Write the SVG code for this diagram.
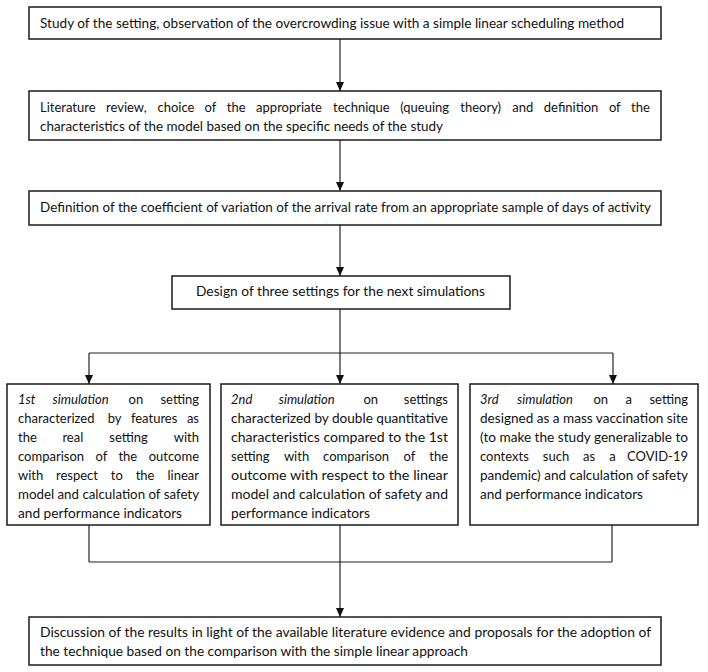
<svg xmlns="http://www.w3.org/2000/svg" width="708" height="672" viewBox="0 0 708 672">
<style>
.box{fill:#fff;stroke:#1a1a1a;stroke-width:1.5}
.t{font-family:Lato,"Liberation Sans",sans-serif;font-size:13px;fill:#111}
.i{font-style:italic}
.e{text-anchor:end}
.c{fill:none;stroke:#222;stroke-width:1.2}
.a{marker-end:url(#ah)}
</style>
<defs>
<marker id="ah" markerWidth="9" markerHeight="8" refX="9" refY="4" orient="auto" markerUnits="userSpaceOnUse" viewBox="0 0 9 8">
<path d="M0,0 L9,4 L0,8 Z" fill="#111"/>
</marker>
</defs>
<rect width="708" height="672" fill="#fff"/>
<g id="connectors">
<line class="c a" x1="340" y1="39" x2="340" y2="91"/>
<line class="c a" x1="340" y1="140" x2="340" y2="191"/>
<line class="c a" x1="340" y1="225" x2="340" y2="276"/>
<line class="c" x1="340" y1="309" x2="340" y2="353"/>
<line class="c" x1="89" y1="353" x2="613" y2="353"/>
<line class="c a" x1="89" y1="353" x2="89" y2="384"/>
<line class="c a" x1="340" y1="353" x2="340" y2="384"/>
<line class="c a" x1="613" y1="353" x2="613" y2="384"/>
<line class="c" x1="89" y1="525" x2="89" y2="562"/>
<line class="c" x1="612" y1="525" x2="612" y2="562"/>
<line class="c" x1="89" y1="562" x2="612" y2="562"/>
<line class="c a" x1="340" y1="525" x2="340" y2="617"/>
</g>
<g id="n1">
<rect class="box" x="29" y="7" width="632" height="32"/>
<text class="t" x="40" y="28" textLength="584" lengthAdjust="spacingAndGlyphs">Study of the setting, observation of the overcrowding issue with a simple linear scheduling method</text>
</g>
<g id="n2">
<rect class="box" x="29" y="91" width="632" height="49"/>
<text class="t" y="112"><tspan x="40">Literature</tspan><tspan x="106">review,</tspan><tspan x="157.5">choice</tspan><tspan x="204.6">of</tspan><tspan x="226.8">the</tspan><tspan x="256.1">appropriate</tspan><tspan x="333">technique</tspan><tspan x="400.2">(queuing</tspan><tspan x="460.3">theory)</tspan><tspan x="512.3">and</tspan><tspan x="543.8">definition</tspan><tspan x="608.9">of</tspan><tspan x="631.1">the</tspan></text>
<text class="t" x="40" y="131" textLength="403" lengthAdjust="spacingAndGlyphs">characteristics of the model based on the specific needs of the study</text>
</g>
<g id="n3">
<rect class="box" x="29" y="191" width="632" height="34"/>
<text class="t" x="40" y="212" textLength="611" lengthAdjust="spacingAndGlyphs">Definition of the coefficient of variation of the arrival rate from an appropriate sample of days of activity</text>
</g>
<g id="n4">
<rect class="box" x="172" y="276" width="338" height="33"/>
<text class="t" x="196" y="296" textLength="289" lengthAdjust="spacingAndGlyphs">Design of three settings for the next simulations</text>
</g>
<g id="n5">
<rect class="box" x="7" y="384" width="203" height="141"/>
<text class="t i" x="18" y="404">1st</text><text class="t i" x="52.6" y="404">simulation</text><text class="t" x="128.6" y="404">on</text><text class="t e" x="199" y="404">setting</text>
<text class="t" x="18" y="423">characterized</text><text class="t" x="107.7" y="423">by</text><text class="t" x="130.9" y="423">features</text><text class="t e" x="199" y="423">as</text>
<text class="t" x="18" y="442">the</text><text class="t" x="62.4" y="442">real</text><text class="t" x="109.3" y="442">setting</text><text class="t e" x="199" y="442">with</text>
<text class="t" x="18" y="461">comparison</text><text class="t" x="95.5" y="461">of</text><text class="t" x="118.4" y="461">the</text><text class="t e" x="199" y="461">outcome</text>
<text class="t" x="18" y="480">with</text><text class="t" x="56" y="480">respect</text><text class="t" x="110.8" y="480">to</text><text class="t" x="135.7" y="480">the</text><text class="t e" x="199" y="480">linear</text>
<text class="t" x="18" y="499" textLength="181" lengthAdjust="spacingAndGlyphs">model and calculation of safety</text>
<text class="t" x="18" y="518" textLength="164" lengthAdjust="spacingAndGlyphs">and performance indicators</text>
</g>
<g id="n6">
<rect class="box" x="221" y="384" width="237" height="141"/>
<text class="t i" x="231" y="404">2nd</text><text class="t i" x="278.7" y="404">simulation</text><text class="t" x="363.4" y="404">on</text><text class="t e" x="448" y="404">settings</text>
<text class="t" x="231" y="423" textLength="217" lengthAdjust="spacingAndGlyphs">characterized by double quantitative</text>
<text class="t" x="231" y="442" textLength="217" lengthAdjust="spacingAndGlyphs">characteristics compared to the 1st</text>
<text class="t" x="231" y="461">setting</text><text class="t" x="283.9" y="461">with</text><text class="t" x="323.1" y="461">comparison</text><text class="t" x="403.5" y="461">of</text><text class="t e" x="448" y="461">the</text>
<text class="t" x="231" y="480" textLength="217" lengthAdjust="spacingAndGlyphs">outcome with respect to the linear</text>
<text class="t" x="231" y="499" textLength="217" lengthAdjust="spacingAndGlyphs">model and calculation of safety and</text>
<text class="t" x="231" y="518" textLength="139" lengthAdjust="spacingAndGlyphs">performance indicators</text>
</g>
<g id="n7">
<rect class="box" x="470" y="384" width="228" height="141"/>
<text class="t i" x="480" y="404">3rd</text><text class="t i" x="517" y="404">simulation</text><text class="t" x="593.4" y="404">on</text><text class="t" x="625.4" y="404">a</text><text class="t e" x="688" y="404">setting</text>
<text class="t" x="480" y="423" textLength="208" lengthAdjust="spacingAndGlyphs">designed as a mass vaccination site</text>
<text class="t" x="480" y="442" textLength="208" lengthAdjust="spacingAndGlyphs">(to make the study generalizable to</text>
<text class="t" x="480" y="461">contexts</text><text class="t" x="542.8" y="461">such</text><text class="t" x="583.1" y="461">as</text><text class="t" x="609.3" y="461">a</text><text class="t e" x="688" y="461">COVID-19</text>
<text class="t" x="480" y="480" textLength="208" lengthAdjust="spacingAndGlyphs">pandemic) and calculation of safety</text>
<text class="t" x="480" y="499" textLength="163" lengthAdjust="spacingAndGlyphs">and performance indicators</text>
</g>
<g id="n8">
<rect class="box" x="29" y="617" width="632" height="48"/>
<text class="t" x="40" y="637" textLength="611" lengthAdjust="spacingAndGlyphs">Discussion of the results in light of the available literature evidence and proposals for the adoption of</text>
<text class="t" x="40" y="656" textLength="428" lengthAdjust="spacingAndGlyphs">the technique based on the comparison with the simple linear approach</text>
</g>
</svg>
